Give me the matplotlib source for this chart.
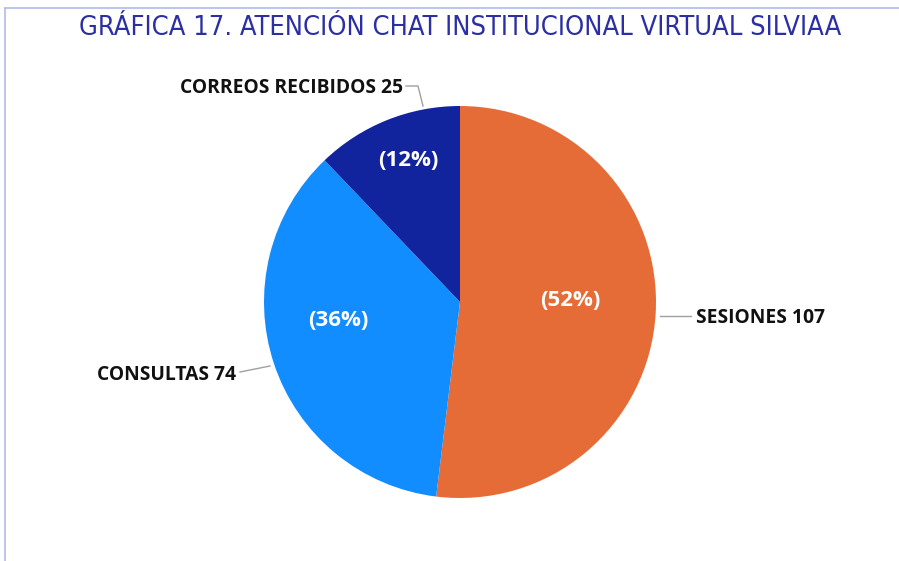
import matplotlib
matplotlib.use("Agg")
import matplotlib.pyplot as plt
from matplotlib.lines import Line2D

categories = ["SESIONES", "CONSULTAS", "CORREOS RECIBIDOS"]
values = [107, 74, 25]
colors = ["#E66C37", "#118DFF", "#12239E"]

W, H = 899, 561
fig = plt.figure(figsize=(W / 100, H / 100), dpi=100)
fig.patch.set_facecolor("white")

# pie centre ~(460, 302) px, radius ~196 px
cx, cy, r = 460, 302, 196
ax = fig.add_axes([(cx - r) / W, (H - cy - r) / H, 2 * r / W, 2 * r / H])

wedges, _ = ax.pie(values, colors=colors, startangle=90, counterclock=False,
                   radius=1, wedgeprops=dict(linewidth=0))
ax.set_xlim(-1, 1)
ax.set_ylim(-1, 1)
ax.set_aspect("equal")
ax.axis("off")

total = sum(values)
pcts = ["({:.0f}%)".format(v / total * 100) for v in values]

def px(x, y):
    return ((x - cx) / r, (cy - y) / r)

# percentage labels inside slices
pct_pos = [px(570, 300), px(338, 320), px(408, 160)]
for t, p in zip(pcts, pct_pos):
    ax.text(p[0], p[1], t, color="white", fontsize=16, fontweight="bold",
            family="Open Sans", ha="center", va="center")

# outside labels with leader lines
lab_font = dict(fontsize=13.9, fontweight="bold", family="Open Sans", color="#111111")
line_kw = dict(color="#A0A0A0", lw=1.0, clip_on=False)

# sesiones
x0, y0 = px(660, 316); x1, y1 = px(691, 316)
ax.plot([x0, x1], [y0, y1], **line_kw)
ax.text(*px(696, 318), f"{categories[0]} {values[0]}", ha="left", va="center",
        clip_on=False, **lab_font)

# consultas
x0, y0 = px(270, 366); x1, y1 = px(240, 372)
ax.plot([x0, x1], [y0, y1], **line_kw)
ax.text(*px(236, 375), f"{categories[1]} {values[1]}", ha="right", va="center",
        clip_on=False, **lab_font)

# correos
pts = [px(423, 106), px(418, 86), px(406, 86)]
ax.plot([p[0] for p in pts], [p[1] for p in pts], **line_kw)
ax.text(*px(403, 88), f"{categories[2]} {values[2]}", ha="right", va="center",
        clip_on=False, **lab_font)

fig.text(460 / W, 1 - 28 / H, "GRÁFICA 17. ATENCIÓN CHAT INSTITUCIONAL VIRTUAL SILVIAA",
         ha="center", va="center", fontsize=19.5, color="#2B2FA3",
         family="DejaVu Sans", fontstretch="condensed")

# frame lines left and top
fig.add_artist(Line2D([5 / W, 5 / W], [0, 1 - 8 / H], color="#B3BBEA", lw=1.2,
                      transform=fig.transFigure))
fig.add_artist(Line2D([5 / W, 1], [1 - 8 / H, 1 - 8 / H], color="#B3BBEA", lw=1.2,
                      transform=fig.transFigure))

fig.savefig("out.png", dpi=100, facecolor="white")
